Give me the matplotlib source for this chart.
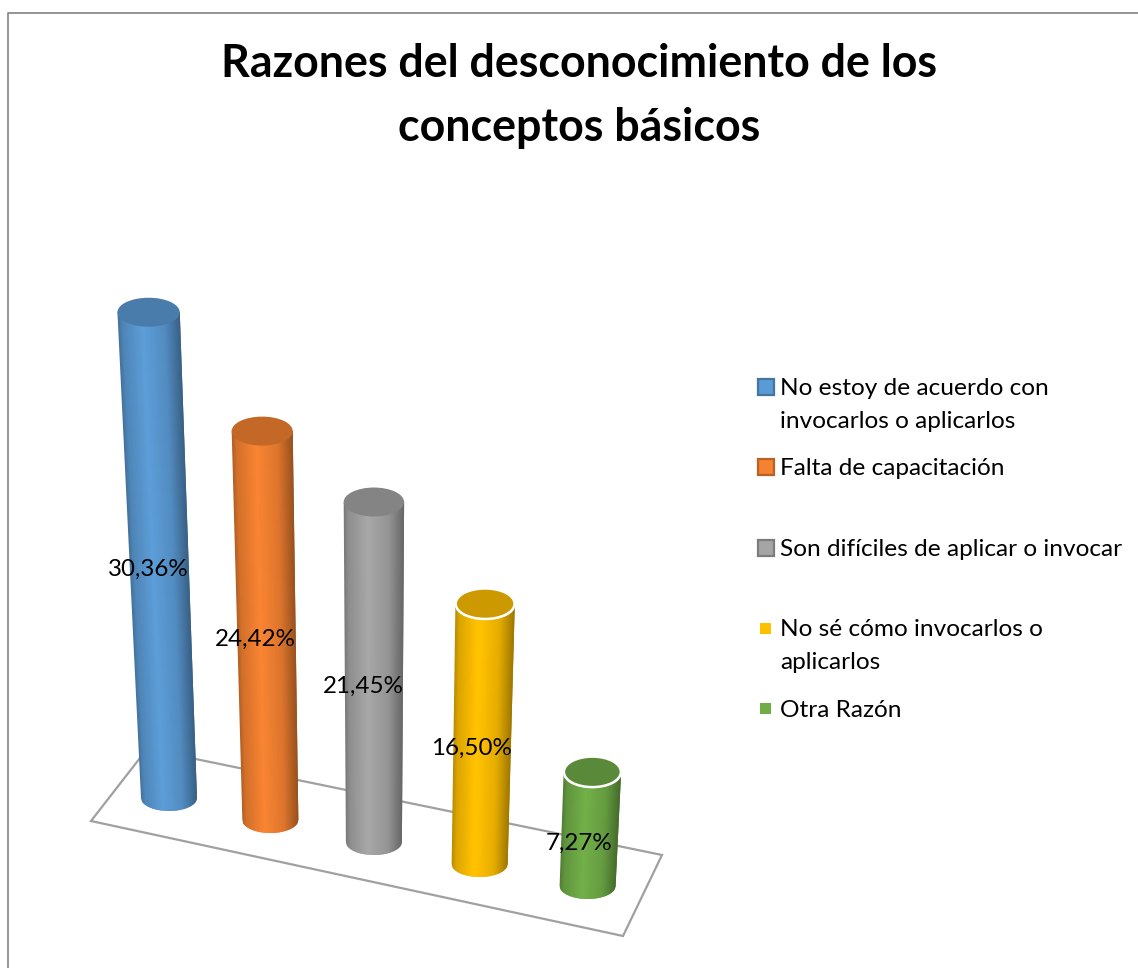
import numpy as np
import matplotlib
matplotlib.use("Agg")
import matplotlib.pyplot as plt
from matplotlib.patches import Ellipse, Polygon, Rectangle
from matplotlib.colors import to_rgb

categorias = ["No estoy de acuerdo con\ninvocarlos o aplicarlos", "Falta de capacitación",
              "Son difíciles de aplicar o invocar", "No sé cómo invocarlos o\naplicarlos", "Otra Razón"]
valores = [30.36, 24.42, 21.45, 16.50, 7.27]
etiquetas = ["30,36%", "24,42%", "21,45%", "16,50%", "7,27%"]
colores = ["#5B9BD5", "#F58231", "#A5A5A5", "#FFC000", "#70AD47"]
borde_blanco = [False, False, False, True, True]

plt.rcParams["font.family"] = ["Lato", "DejaVu Sans"]

fig = plt.figure(figsize=(11.38, 9.68), dpi=100)
ax = fig.add_axes([0, 0, 1, 1])
ax.set_xlim(0, 1138)
ax.set_ylim(968, 0)
ax.axis("off")

# marco del grafico
ax.plot([8.5, 8.5, 1138], [968, 12.5, 12.5], color="#8c8c8c", lw=1.3)

ax.text(579, 77, "Razones del desconocimiento de los", ha="center", va="baseline",
        fontsize=32.2, fontweight="bold", color="black")
ax.text(579, 141, "conceptos básicos", ha="center", va="baseline",
        fontsize=32.2, fontweight="bold", color="black")

# piso en perspectiva
ax.add_patch(Polygon([(91, 821), (623, 936), (662, 855), (147, 749)], closed=True,
                     fill=False, edgecolor="#a0a0a0", lw=1.6, zorder=1))

t = np.linspace(-1, 1, 61)
sombra = np.interp((t[:-1] + t[1:]) / 2, [-1, -0.85, -0.2, 0.5, 1], [0.72, 0.86, 1.02, 0.9, 0.62])

for i, v in enumerate(valores):
    # proyeccion: indice de categoria y valor a pixeles
    alto = v * (16.0 - 0.075 * i)
    xb = 169 + 100.25 * i + 1.1 * i ** 2
    yb = 798 + 22 * i
    xt = xb + alto * (i - 2) * 0.021
    yt = yb - alto
    hb = 28
    ht = 28 + alto * 0.0065
    base = np.array(to_rgb(colores[i]))

    # cada franja pisa a la siguiente para que no queden costuras
    for j in range(len(t) - 1):
        a, c = t[j], t[min(j + 2, len(t) - 1)]
        puntos = [(xt + a * ht, yt), (xt + c * ht, yt),
                  (xb + c * hb, yb + 13 * np.sqrt(1 - c ** 2)),
                  (xb + (a + c) / 2 * hb, yb + 13 * np.sqrt(1 - ((a + c) / 2) ** 2)),
                  (xb + a * hb, yb + 13 * np.sqrt(1 - a ** 2))]
        ax.add_patch(Polygon(puntos, closed=True, facecolor=np.clip(base * sombra[j], 0, 1),
                             edgecolor="none", zorder=2))

    tapa = base * 0.8
    if borde_blanco[i]:
        ax.add_patch(Ellipse((xt, yt + 1.5), 2 * ht + 1, 30, facecolor="white", edgecolor="none", zorder=3))
        ax.add_patch(Ellipse((xt, yt), 2 * ht - 3, 28, facecolor=tapa, edgecolor="none", zorder=4))
    else:
        ax.add_patch(Ellipse((xt, yt), 2 * ht, 29, facecolor=tapa, edgecolor="none", zorder=4))

    ax.text((xt + xb) / 2 - 11, (yt + yb) / 2 + 14, etiquetas[i], ha="center", va="center",
            fontsize=17.4, color="black", zorder=6)

# leyenda
ley_y = [386.5, 467, 548, 628.5, 708.5]
ley_txt = [395, 475, 556, 636, 717]
for i, nombre in enumerate(categorias):
    base = np.array(to_rgb(colores[i]))
    if i < 3:
        ax.add_patch(Rectangle((758, ley_y[i] - 8), 16, 16, facecolor=base,
                               edgecolor=base * 0.75, lw=1.6, zorder=5))
    else:
        ax.add_patch(Rectangle((760, ley_y[i] - 5.5), 11, 11, facecolor=base, edgecolor="none", zorder=5))
    lineas = nombre.split("\n")
    for k, linea in enumerate(lineas):
        ax.text(780, ley_txt[i] + 33 * k, linea, ha="left", va="baseline", fontsize=17.6, color="black")

fig.savefig("out.png", dpi=100, facecolor="white")
